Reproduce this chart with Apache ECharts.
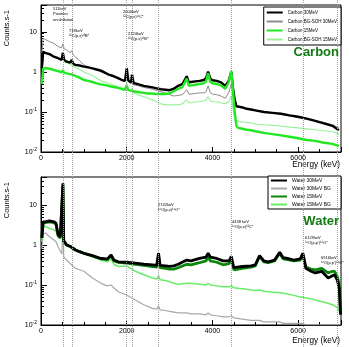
<!DOCTYPE html>
<html>
<head>
<meta charset="utf-8">
<script src="https://cdn.jsdelivr.net/npm/echarts@6/dist/echarts.min.js"></script>
<style>
  html, body { margin: 0; padding: 0; background: #fff; }
  #chart { width: 349px; height: 347px; }
</style>
</head>
<body>
<div id="chart"></div>
<script>
// energies (keV) of the sampled points, top panel (carbon)
var carbonEnergy = [20, 50, 100, 200, 300, 400, 480, 511, 540, 600, 680, 718, 750, 800, 900, 1000, 1100, 1200, 1300, 1400,
  1500, 1600, 1700, 1800, 1900, 1960, 2000, 2040, 2100, 2124, 2160, 2200, 2300, 2400, 2500, 2600, 2700, 2800, 2900, 3000,
  3100, 3200, 3300, 3400, 3450, 3500, 3600, 3700, 3800, 3850, 3900, 3950, 4000, 4100, 4200, 4300, 4380, 4440, 4480, 4520,
  4560, 4600, 4700, 4800, 4900, 5000, 5200, 5400, 5600, 5800, 6000, 6200, 6400, 6600, 6800, 6950]

var carbon30 = [1.2, 3.2, 3.0, 2.8, 2.4, 2.2, 2.0, 3.0, 2.0, 1.8, 1.7, 2.0, 1.6, 1.5, 1.45, 1.36, 1.3, 1.23, 1.15, 1.08,
  0.95, 0.84, 0.78, 0.7, 0.62, 0.6, 1.25, 0.6, 0.55, 0.85, 0.53, 0.52, 0.48, 0.45, 0.43, 0.41, 0.39, 0.37, 0.36, 0.35,
  0.38, 0.45, 0.5, 0.78, 0.55, 0.56, 0.58, 0.6, 0.63, 0.7, 1.02, 0.68, 0.62, 0.6, 0.55, 0.45, 0.6, 1.0, 0.4, 0.2,
  0.14, 0.135, 0.13, 0.12, 0.115, 0.11, 0.1, 0.095, 0.09, 0.082, 0.076, 0.068, 0.06, 0.052, 0.045, 0.035]

var carbonBg30 = [3.0, 6.9, 6.5, 5.7, 5.2, 4.3, 4.0, 5.0, 3.8, 3.5, 3.0, 3.4, 2.7, 2.4, 1.9, 1.5, 1.35, 1.23, 1.1, 1.0,
  0.92, 0.84, 0.75, 0.67, 0.62, 0.6, 0.9, 0.58, 0.5, 0.65, 0.48, 0.47, 0.44, 0.41, 0.39, 0.37, 0.34, 0.32, 0.3, 0.27,
  0.25, 0.26, 0.27, 0.36, 0.28, 0.28, 0.29, 0.3, 0.3, 0.32, 0.45, 0.3, 0.28, 0.27, 0.25, 0.22, 0.3, 0.5, 0.25, 0.16,
  0.13, 0.13, 0.125, 0.12, 0.115, 0.11, 0.1, 0.095, 0.088, 0.08, 0.072, 0.066, 0.06, 0.055, 0.048, 0.04]

var carbon15 = [0.5, 1.2, 1.25, 1.2, 1.12, 1.05, 0.98, 1.1, 0.95, 0.92, 0.88, 0.9, 0.85, 0.8, 0.72, 0.63, 0.6, 0.56, 0.52, 0.49,
  0.47, 0.44, 0.42, 0.4, 0.37, 0.36, 0.45, 0.35, 0.34, 0.38, 0.33, 0.32, 0.31, 0.3, 0.29, 0.29, 0.28, 0.28, 0.28, 0.29,
  0.33, 0.38, 0.42, 0.68, 0.45, 0.46, 0.48, 0.5, 0.52, 0.58, 0.92, 0.56, 0.52, 0.5, 0.46, 0.38, 0.55, 1.05, 0.35, 0.1,
  0.045, 0.04, 0.038, 0.036, 0.035, 0.033, 0.03, 0.028, 0.026, 0.024, 0.022, 0.02, 0.019, 0.017, 0.016, 0.014]

var carbonBg15 = [1.2, 3.0, 2.9, 2.6, 2.4, 2.1, 2.0, 2.4, 1.8, 1.7, 1.55, 1.7, 1.4, 1.3, 1.15, 1.0, 0.9, 0.8, 0.7, 0.6,
  0.55, 0.5, 0.46, 0.42, 0.4, 0.38, 0.55, 0.36, 0.32, 0.4, 0.3, 0.29, 0.26, 0.24, 0.22, 0.2, 0.18, 0.16, 0.15, 0.15,
  0.15, 0.15, 0.16, 0.2, 0.17, 0.17, 0.18, 0.18, 0.19, 0.2, 0.24, 0.19, 0.18, 0.18, 0.17, 0.16, 0.18, 0.25, 0.12, 0.07,
  0.06, 0.058, 0.056, 0.055, 0.053, 0.05, 0.048, 0.046, 0.044, 0.042, 0.04, 0.038, 0.036, 0.034, 0.032, 0.028]

// energies (keV), bottom panel (water)
var waterEnergy = [20, 50, 100, 200, 300, 350, 400, 450, 490, 511, 530, 600, 700, 800, 900, 1000, 1200, 1400, 1550, 1635,
  1700, 1800, 2000, 2200, 2400, 2600, 2700, 2742, 2780, 2900, 3000, 3100, 3200, 3400, 3500, 3700, 3850, 3900, 3950, 4100,
  4250, 4390, 4440, 4500, 4700, 4900, 5000, 5100, 5200, 5300, 5450, 5570, 5650, 5750, 5900, 6050, 6110, 6180, 6300, 6400,
  6550, 6700, 6800, 6850, 6916, 6960, 6990]

var water30 = [1.5, 3.8, 3.8, 4.0, 3.8, 3.5, 1.8, 1.6, 1.5, 35, 1.3, 1.0, 0.9, 0.75, 0.68, 0.62, 0.54, 0.46, 0.45, 0.56,
  0.42, 0.38, 0.37, 0.35, 0.33, 0.32, 0.31, 0.62, 0.31, 0.3, 0.29, 0.3, 0.33, 0.42, 0.4, 0.46, 0.5, 0.62, 0.5, 0.46,
  0.4, 0.4, 0.52, 0.27, 0.29, 0.3, 0.32, 0.54, 0.4, 0.38, 0.42, 0.66, 0.48, 0.46, 0.42, 0.45, 0.62, 0.26, 0.22, 0.2,
  0.22, 0.15, 0.17, 0.18, 0.13, 0.08, 0.018]

var waterBg30 = [0.8, 1.9, 2.0, 1.6, 1.33, 1.2, 0.9, 0.7, 0.6, 15, 0.5, 0.42, 0.33, 0.26, 0.24, 0.22, 0.15, 0.11, 0.095, 0.1,
  0.085, 0.068, 0.056, 0.042, 0.032, 0.026, 0.025, 0.03, 0.024, 0.023, 0.022, 0.021, 0.02, 0.02, 0.019, 0.019, 0.018, 0.02, 0.018, 0.017,
  0.016, 0.016, 0.017, 0.015, 0.014, 0.013, 0.013, 0.013, 0.012, 0.012, 0.012, 0.012, 0.011, 0.011, 0.011, 0.011, 0.011, 0.01, 0.01, 0.01,
  0.01, 0.01, 0.01, 0.01, 0.01, 0.01, 0.01]

var water15 = [1.5, 3.5, 3.6, 3.8, 3.6, 3.3, 1.7, 1.5, 1.4, 30, 1.2, 1.0, 0.9, 0.76, 0.68, 0.62, 0.53, 0.45, 0.43, 0.55,
  0.4, 0.37, 0.35, 0.33, 0.31, 0.29, 0.28, 0.55, 0.27, 0.26, 0.25, 0.25, 0.27, 0.33, 0.32, 0.36, 0.4, 0.5, 0.4, 0.37,
  0.32, 0.34, 0.45, 0.24, 0.26, 0.28, 0.3, 0.52, 0.38, 0.36, 0.4, 0.62, 0.45, 0.43, 0.4, 0.42, 0.6, 0.28, 0.25, 0.24,
  0.26, 0.2, 0.22, 0.22, 0.16, 0.1, 0.02]

var waterBg15 = [1.2, 2.8, 2.9, 2.6, 2.4, 2.2, 1.6, 1.45, 1.33, 25, 1.2, 1.0, 0.85, 0.75, 0.68, 0.62, 0.51, 0.42, 0.38, 0.45,
  0.33, 0.29, 0.3, 0.22, 0.18, 0.15, 0.14, 0.17, 0.135, 0.13, 0.12, 0.11, 0.105, 0.11, 0.11, 0.105, 0.1, 0.11, 0.1, 0.095,
  0.09, 0.09, 0.095, 0.085, 0.08, 0.075, 0.073, 0.075, 0.07, 0.068, 0.065, 0.065, 0.062, 0.06, 0.055, 0.05, 0.05, 0.047, 0.045, 0.042,
  0.038, 0.035, 0.032, 0.03, 0.027, 0.022, 0.02]

// gamma lines marked with dotted verticals (keV)
var lineEnergies = [511, 718, 2000, 2124, 2742, 4438, 6129, 6916]

function pairs (xs, ys) {
  return xs.map(function (x, i) { return [x, ys[i]] })
}

function logLabel (v) {
  var p = Math.round(Math.log10(v))
  if (p === 0) return '1'
  if (p === 1) return '10'
  return '10{sup|' + p + '}'
}

function xAxisFor (idx) {
  return {
    gridIndex: idx, type: 'value', min: 0, max: 7000, interval: 2000,
    axisLine: { show: true, onZero: false, lineStyle: { color: '#000', width: 1 } },
    axisTick: { inside: true, length: 5, lineStyle: { color: '#000' } },
    minorTick: { show: true, splitNumber: 4, length: 3, lineStyle: { color: '#000' } },
    axisLabel: {
      showMaxLabel: false, color: '#000', fontSize: 7, margin: 3, fontFamily: 'Liberation Sans',
      formatter: function (v) { return String(v) }
    },
    splitLine: { show: false }
  }
}

function yAxisFor (idx, max) {
  return {
    gridIndex: idx, type: 'log', logBase: 10, min: 0.01, max: max,
    axisLine: { show: true, lineStyle: { color: '#000', width: 1 } },
    axisTick: { inside: true, length: 6, lineStyle: { color: '#000' } },
    minorTick: { show: true, splitNumber: 9, length: 3, lineStyle: { color: '#000' } },
    axisLabel: {
      showMaxLabel: false, color: '#000', fontSize: 7, margin: 4, fontFamily: 'Liberation Sans',
      formatter: logLabel,
      rich: { sup: { fontSize: 5, verticalAlign: 'top', padding: [0, 0, 4, 0], fontFamily: 'Liberation Sans' } }
    },
    splitLine: { show: false }
  }
}

function lineSeries (name, xIdx, data, color, width) {
  return {
    name: name, type: 'line', xAxisIndex: xIdx, yAxisIndex: xIdx,
    data: data, showSymbol: false, symbol: 'none', animation: false,
    lineStyle: { color: color, width: width }, itemStyle: { color: color }
  }
}

function note (x, y, lines) {
  return {
    type: 'text', x: x, y: y, z: 100,
    style: { text: lines.join('\n'), fontSize: 4, lineHeight: 5.5, fill: '#000', fontFamily: 'Liberation Sans' }
  }
}

var legendBase = {
  orient: 'vertical', right: 8, borderColor: '#000', borderWidth: 1,
  backgroundColor: '#fff', icon: 'rect', itemWidth: 16, itemHeight: 2,
  selectedMode: false
}

var chart = echarts.init(document.getElementById('chart'), null, { renderer: 'canvas' })

var option = {
  animation: false,
  backgroundColor: '#fff',
  grid: [
    { left: 41, right: 8, top: 5, height: 147, show: true, borderColor: '#000', borderWidth: 1 },
    { left: 41, right: 8, top: 177, height: 148, show: true, borderColor: '#000', borderWidth: 1 },
    // full height, only for the dotted gamma lines
    { left: 41, right: 8, top: 0, bottom: 0 }
  ],
  xAxis: [xAxisFor(0), xAxisFor(1), { gridIndex: 2, type: 'value', min: 0, max: 7000, show: false }],
  yAxis: [yAxisFor(0, 47), yAxisFor(1, 50), { gridIndex: 2, type: 'value', min: 0, max: 1, show: false }],
  legend: [
    Object.assign({}, legendBase, {
      top: 7, itemGap: 4, padding: [3, 4, 3, 3],
      textStyle: { color: '#000', fontSize: 4.5, fontFamily: 'Liberation Sans' },
      data: ['Carbon 30MeV', 'Carbon BG-SOH 30MeV', 'Carbon 15MeV', 'Carbon BG-SOH 15MeV']
    }),
    Object.assign({}, legendBase, {
      top: 176, itemGap: 3, padding: [2, 10, 2, 3],
      textStyle: { color: '#000', fontSize: 5, fontFamily: 'Liberation Sans' },
      data: ['Water 30MeV', 'Water 30MeV BG', 'Water 15MeV', 'Water 15MeV BG']
    })
  ],
  series: [
    {
      type: 'line', xAxisIndex: 2, yAxisIndex: 2, data: [[0, 0.5]], showSymbol: false, symbol: 'none',
      lineStyle: { width: 0 }, silent: true, z: 1,
      markLine: {
        silent: true, symbol: 'none', animation: false,
        label: { show: false },
        lineStyle: { color: '#a0a0a0', type: 'dotted', width: 1 },
        data: lineEnergies.map(function (e) { return { xAxis: e } })
      }
    },
    lineSeries('Carbon BG-SOH 30MeV', 0, pairs(carbonEnergy, carbonBg30), '#8c8c8c', 1),
    lineSeries('Carbon BG-SOH 15MeV', 0, pairs(carbonEnergy, carbonBg15), '#9af09a', 1.2),
    lineSeries('Carbon 30MeV', 0, pairs(carbonEnergy, carbon30), '#000000', 2.4),
    lineSeries('Carbon 15MeV', 0, pairs(carbonEnergy, carbon15), '#22e822', 2.4),
    lineSeries('Water 30MeV BG', 1, pairs(waterEnergy, waterBg30), '#a8a8a8', 1.2),
    lineSeries('Water 15MeV BG', 1, pairs(waterEnergy, waterBg15), '#66ee66', 1.5),
    lineSeries('Water 15MeV', 1, pairs(waterEnergy, water15), '#0a870a', 2.8),
    lineSeries('Water 30MeV', 1, pairs(waterEnergy, water30), '#000000', 2.8)
  ],
  graphic: [
    { type: 'text', x: 7, y: 10, rotation: Math.PI / 2,
      style: { text: 'Counts.s-1', fontSize: 7.5, fill: '#000', align: 'right', verticalAlign: 'middle', fontFamily: 'Liberation Sans' } },
    { type: 'text', x: 7, y: 182, rotation: Math.PI / 2,
      style: { text: 'Counts.s-1', fontSize: 7.5, fill: '#000', align: 'right', verticalAlign: 'middle', fontFamily: 'Liberation Sans' } },
    { type: 'text', x: 340, y: 165,
      style: { text: 'Energy (keV)', fontSize: 8.2, fill: '#000', align: 'right', verticalAlign: 'middle', fontFamily: 'Liberation Sans' } },
    { type: 'text', x: 340, y: 341,
      style: { text: 'Energy (keV)', fontSize: 8.2, fill: '#000', align: 'right', verticalAlign: 'middle', fontFamily: 'Liberation Sans' } },
    { type: 'text', x: 339, y: 52, z: 100,
      style: { text: 'Carbon', fontSize: 13, fontWeight: 'bold', fill: '#137a13', align: 'right', verticalAlign: 'middle', fontFamily: 'Liberation Sans' } },
    { type: 'text', x: 339, y: 221, z: 100,
      style: { text: 'Water', fontSize: 13, fontWeight: 'bold', fill: '#137a13', align: 'right', verticalAlign: 'middle', fontFamily: 'Liberation Sans' } },
    note(53, 6, ['511keV', 'Positron', 'annihilation']),
    note(69, 28, ['718keV', '¹²C(p,x)¹⁰B*']),
    note(123, 9, ['2000keV', '¹²C(p,x)¹¹C*']),
    note(128, 31, ['2124keV', '¹²C(p,x)¹¹B*']),
    note(158, 202, ['2742keV', '¹⁶O(p,x)¹⁶O*']),
    note(232, 219, ['4438 keV', '¹⁶O(p,x)¹²C*']),
    note(305, 235, ['6129keV', '¹⁶O(p,p\')¹⁶O*']),
    note(321, 255, ['6916keV', '¹⁶O(p,p\')¹⁶O*'])
  ]
}

chart.setOption(option)
</script>
</body>
</html>
